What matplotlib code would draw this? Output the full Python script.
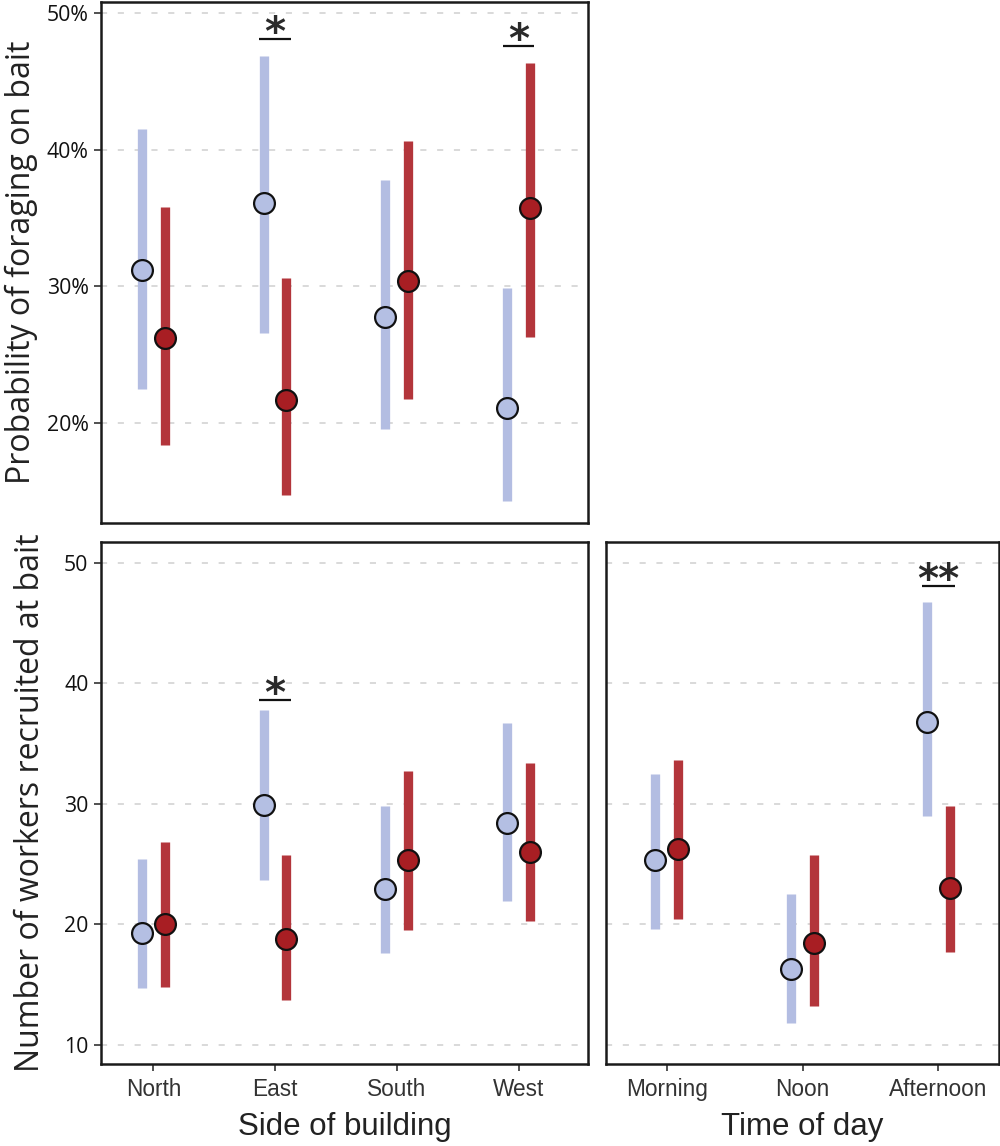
import matplotlib
matplotlib.use("Agg")
import matplotlib.pyplot as plt
from matplotlib.ticker import FuncFormatter
from matplotlib.transforms import offset_copy

# ---------------- data ----------------
sides = ["North", "East", "South", "West"]
times = ["Morning", "Noon", "Afternoon"]

# Probability of foraging on bait (%) by side of building
prob_blue_mean = [31.2, 36.1, 27.8, 21.1]
prob_blue_lo = [22.5, 26.6, 19.6, 14.3]
prob_blue_hi = [41.5, 46.8, 37.8, 29.9]
prob_red_mean = [26.2, 21.7, 30.4, 35.7]
prob_red_lo = [18.4, 14.8, 21.8, 26.3]
prob_red_hi = [35.8, 30.6, 40.6, 46.3]
prob_sig = ["", "*", "", "*"]
prob_sig_y = [None, 48.1, None, 47.6]

# Number of workers recruited, by side of building
side_blue_mean = [19.3, 29.9, 22.9, 28.4]
side_blue_lo = [14.7, 23.7, 17.6, 21.9]
side_blue_hi = [25.4, 37.8, 29.8, 36.7]
side_red_mean = [20.0, 18.8, 25.3, 26.0]
side_red_lo = [14.8, 13.7, 19.5, 20.3]
side_red_hi = [26.8, 25.7, 32.7, 33.4]
side_sig = ["", "*", "", ""]
side_sig_y = [None, 38.6, None, None]

# Number of workers recruited, by time of day
time_blue_mean = [25.3, 16.3, 36.8]
time_blue_lo = [19.6, 11.8, 29.0]
time_blue_hi = [32.5, 22.5, 46.7]
time_red_mean = [26.2, 18.4, 23.0]
time_red_lo = [20.4, 13.2, 17.7]
time_red_hi = [33.6, 25.7, 29.8]
time_sig = ["", "", "**"]
time_sig_y = [None, None, 48.1]

prob_ticks = [20, 30, 40, 50]
count_ticks = [10, 20, 30, 40, 50]

# ---------------- style ----------------
BLUE_BAR = "#b3bde2"
BLUE_PT = "#b4bfe3"
RED_BAR = "#b3353b"
RED_PT = "#a81e23"
XFONT = "Liberation Sans"
YFONT = "Open Sans"

fig = plt.figure(figsize=(10, 11.46), dpi=100)
ax_top = fig.add_axes([0.101, 0.5436, 0.487, 0.4549])
ax_bl = fig.add_axes([0.101, 0.0712, 0.487, 0.456])
ax_br = fig.add_axes([0.6057, 0.0712, 0.3936, 0.456])


def draw_panel(ax, cats, bm, blo, bhi, rm, rlo, rhi, sig, sig_y, half):
    x = list(range(1, len(cats) + 1))
    tb = offset_copy(ax.transData, fig=fig, x=-8.2, y=0, units="points")
    tr = offset_copy(ax.transData, fig=fig, x=8.2, y=0, units="points")
    ax.vlines(x, blo, bhi, colors=BLUE_BAR, linewidth=6.7, transform=tb, zorder=2)
    ax.vlines(x, rlo, rhi, colors=RED_BAR, linewidth=6.7, transform=tr, zorder=2)
    ax.plot(x, bm, linestyle="none", marker="o", markersize=15, markerfacecolor=BLUE_PT,
            markeredgecolor="#111111", markeredgewidth=1.6, transform=tb, zorder=3)
    ax.plot(x, rm, linestyle="none", marker="o", markersize=15, markerfacecolor=RED_PT,
            markeredgecolor="#111111", markeredgewidth=1.6, transform=tr, zorder=3)
    for xi, s, sy in zip(x, sig, sig_y):
        if s:
            ax.plot([xi - half, xi + half], [sy, sy], color="#111111", lw=1.6, zorder=3,
                    solid_capstyle="butt")
            ax.annotate(s, xy=(xi, sy), xytext=(0, -4.5), textcoords="offset points",
                        ha="center", va="baseline", fontsize=29, fontweight="bold",
                        color="#2a2a2a", family="DejaVu Sans")
    ax.set_xticks(x)
    ax.set_xticklabels(cats)
    for sp in ax.spines.values():
        sp.set_linewidth(1.8)
        sp.set_color("#1a1a1a")
    ax.tick_params(axis="x", length=5, width=1.2, color="#333333", pad=5,
                   labelsize=16.3, labelcolor="#333333", labelfontfamily=XFONT)
    ax.tick_params(axis="y", length=5, width=1.2, color="#333333", pad=4,
                   labelsize=15.3, labelcolor="#111111", labelfontfamily=YFONT)
    ax.yaxis.grid(True, linestyle=(0, (4, 7)), color="#cfcfcf", linewidth=1.1, zorder=0)
    ax.set_axisbelow(True)


draw_panel(ax_top, sides, prob_blue_mean, prob_blue_lo, prob_blue_hi,
           prob_red_mean, prob_red_lo, prob_red_hi, prob_sig, prob_sig_y, 0.13)
draw_panel(ax_bl, sides, side_blue_mean, side_blue_lo, side_blue_hi,
           side_red_mean, side_red_lo, side_red_hi, side_sig, side_sig_y, 0.13)
draw_panel(ax_br, times, time_blue_mean, time_blue_lo, time_blue_hi,
           time_red_mean, time_red_lo, time_red_hi, time_sig, time_sig_y, 0.12)

ax_top.set_xlim(0.57, 4.57)
ax_bl.set_xlim(0.57, 4.57)
ax_br.set_xlim(0.55, 3.45)

ax_top.set_ylim(12.72, 50.8)
ax_top.set_yticks(prob_ticks)
ax_top.yaxis.set_major_formatter(FuncFormatter(lambda v, p: f"{v:.0f}%"))
ax_top.tick_params(axis="x", bottom=False, labelbottom=False)

for ax in (ax_bl, ax_br):
    ax.set_ylim(8.36, 51.73)
    ax.set_yticks(count_ticks)
ax_br.tick_params(axis="y", left=False, labelleft=False)

ax_top.set_ylabel("Probability of foraging on bait", family=YFONT, fontsize=23,
                  color="#222222", labelpad=6)
ax_bl.set_ylabel("Number of workers recruited at bait", family=YFONT, fontsize=23,
                 color="#222222", labelpad=12)
ax_bl.set_xlabel("Side of building", family=XFONT, fontsize=22.5, color="#222222", labelpad=8)
ax_br.set_xlabel("Time of day", family=XFONT, fontsize=22.5, color="#222222", labelpad=8)

fig.savefig("out.png", dpi=100)
